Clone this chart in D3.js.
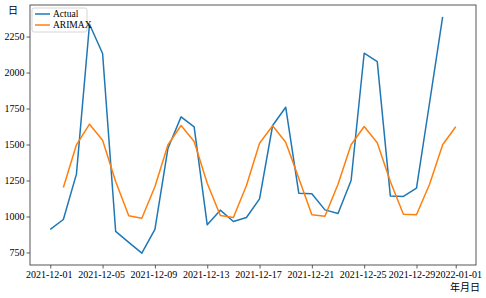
<!DOCTYPE html>
<html>
<head>
<meta charset="utf-8">
<script src="https://cdn.jsdelivr.net/npm/d3@7"></script>
<style>
  body { margin: 0; background: #fff; }
  svg text { font-family: "Liberation Serif", "Times New Roman", Times, serif; }
</style>
</head>
<body>
<div id="chart"></div>
<script>
// actual series, 2021-12-01 .. 2021-12-31
const actualStart = "2021-12-01";
const actualValues = [910, 979, 1294, 2335, 2132, 896, 820, 745, 910, 1474,
  1692, 1623, 942, 1044, 965, 993, 1122, 1632, 1759, 1162,
  1158, 1046, 1021, 1250, 2134, 2076, 1143, 1139, 1197, 1790, 2387];

// ARIMAX series, 2021-12-02 .. 2022-01-01
const arimaxStart = "2021-12-02";
const arimaxValues = [1201, 1498, 1641, 1530, 1243, 1005, 988, 1206, 1498, 1632,
  1521, 1231, 1007, 993, 1215, 1509, 1630, 1516, 1266, 1012,
  1002, 1224, 1498, 1625, 1512, 1243, 1016, 1012, 1224, 1498, 1623];

const xTickLabels = ["2021-12-01", "2021-12-05", "2021-12-09", "2021-12-13", "2021-12-17",
  "2021-12-21", "2021-12-25", "2021-12-29", "2022-01-01"];
const yTickValues = [750, 1000, 1250, 1500, 1750, 2000, 2250];

const seriesNames = ["Actual", "ARIMAX"];
const seriesColors = ["#1f77b4", "#ff7f0e"];

const W = 486, H = 298;
const margin = { top: 5, right: 10, bottom: 33, left: 30 };
const width = W - margin.left - margin.right;
const height = H - margin.top - margin.bottom;
const serif = '"Liberation Serif", "Times New Roman", Times, serif';

const parse = d3.utcParse("%Y-%m-%d");
const day = 24 * 3600 * 1000;

function toSeries(start, values) {
  const t0 = parse(start);
  return values.map((v, i) => ({ date: new Date(t0.getTime() + i * day), value: v }));
}
const actual = toSeries(actualStart, actualValues);
const arimax = toSeries(arimaxStart, arimaxValues);
const all = actual.concat(arimax);

const svg = d3.select("#chart").append("svg")
  .attr("width", W).attr("height", H);
const g = svg.append("g").attr("transform", `translate(${margin.left},${margin.top})`);

// matplotlib style 5% margins
const xExt = d3.extent(all, d => d.date);
const xPad = (xExt[1] - xExt[0]) * 0.05;
const xScale = d3.scaleUtc()
  .domain([new Date(xExt[0].getTime() - xPad), new Date(xExt[1].getTime() + xPad)])
  .range([0, width]);

const yExt = d3.extent(all, d => d.value);
const yPad = (yExt[1] - yExt[0]) * 0.05;
const yScale = d3.scaleLinear()
  .domain([yExt[0] - yPad, yExt[1] + yPad])
  .range([height, 0]);

const xAxis = d3.axisBottom(xScale)
  .tickValues(xTickLabels.map(parse))
  .tickFormat(d3.utcFormat("%Y-%m-%d"))
  .tickSizeOuter(0).tickSize(3.5).tickPadding(2);
const yAxis = d3.axisLeft(yScale)
  .tickValues(yTickValues)
  .tickFormat(d3.format("d"))
  .tickSizeOuter(0).tickSize(3.5).tickPadding(2);

const gx = g.append("g").attr("transform", `translate(0,${height})`).call(xAxis);
const gy = g.append("g").call(yAxis);
[gx, gy].forEach(a => {
  a.attr("font-family", serif).attr("font-size", 10);
  a.select(".domain").remove();
  a.selectAll(".tick line").attr("stroke", "#333").attr("stroke-width", 0.8);
  a.selectAll(".tick text").attr("fill", "#000");
});
// last two date labels sit close together, nudge them apart like the original
const nX = xTickLabels.length;
gx.selectAll(".tick text")
  .attr("dx", (d, i) => i === nX - 2 ? -5 : (i === nX - 1 ? 2.5 : -1.5));

const line = d3.line()
  .x(d => xScale(d.date))
  .y(d => yScale(d.value));

[actual, arimax].forEach((s, i) => {
  g.append("path")
    .datum(s)
    .attr("d", line)
    .attr("fill", "none")
    .attr("stroke", seriesColors[i])
    .attr("stroke-width", 1.5)
    .attr("stroke-linejoin", "round");
});

// frame
g.append("rect")
  .attr("width", width).attr("height", height)
  .attr("fill", "none").attr("stroke", "#444").attr("stroke-width", 0.9);

// axis labels
svg.append("text")
  .attr("x", 13).attr("y", 14)
  .attr("text-anchor", "middle")
  .style("font-family", '"Noto Sans CJK SC"')
  .style("font-size", "10px")
  .text("日");
svg.append("text")
  .attr("x", 480).attr("y", 291)
  .attr("text-anchor", "end")
  .style("font-family", '"Noto Sans CJK SC"')
  .style("font-size", "10px")
  .text("年月日");

// legend
const legend = g.append("g").attr("transform", "translate(2,3)");
legend.append("rect")
  .attr("width", 55).attr("height", 24)
  .attr("rx", 2)
  .attr("fill", "#fff").attr("fill-opacity", 0.8)
  .attr("stroke", "#ccc").attr("stroke-width", 0.8);
const items = legend.selectAll(".legend-item")
  .data(seriesNames)
  .enter().append("g")
  .attr("class", "legend-item")
  .attr("transform", (d, i) => `translate(0, ${6 + i * 11})`);
items.append("line")
  .attr("x1", 3).attr("x2", 18)
  .attr("stroke", (d, i) => seriesColors[i])
  .attr("stroke-width", 1.5);
items.append("text")
  .attr("x", 21).attr("y", 0)
  .attr("dy", "0.35em")
  .style("font-family", serif)
  .style("font-size", "9.5px")
  .text(d => d);
</script>
</body>
</html>
